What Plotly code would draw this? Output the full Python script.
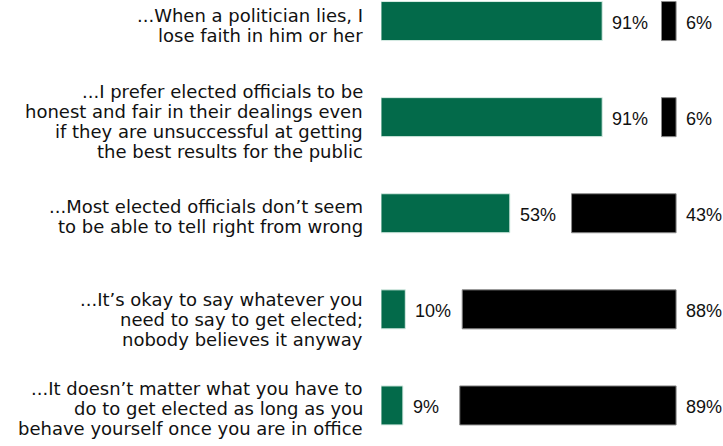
import plotly.graph_objects as go

statements = [
    ["...When a politician lies, I", "lose faith in him or her"],
    ["...I prefer elected officials to be", "honest and fair in their dealings even",
     "if they are unsuccessful at getting", "the best results for the public"],
    ["...Most elected officials don\u2019t seem", "to be able to tell right from wrong"],
    ["...It\u2019s okay to say whatever you", "need to say to get elected;",
     "nobody believes it anyway"],
    ["...It doesn\u2019t matter what you have to", "do to get elected as long as you",
     "behave yourself once you are in office"],
]
agree = [91, 91, 53, 10, 9]
disagree = [6, 6, 43, 88, 89]

GREEN = "#036A4A"
BLACK = "#000000"
RIGHT_EDGE = 121.4   # x position where the black bars are right-aligned
BAR_W = 0.406
LINE_H = 20          # px between label lines
LABEL_DY = [4, 4, 3, 10, 3]  # px the label block sits below the bar centre

LABEL_FONT = dict(family="DejaVu Sans, Verdana, sans-serif", size=18, color="#111111")
NUM_FONT = dict(family="Liberation Sans, Arial, sans-serif", size=18, color="#111111")

pos = list(range(len(statements)))

fig = go.Figure()
fig.add_trace(go.Bar(
    y=pos, x=agree, orientation="h", width=BAR_W,
    marker=dict(color=GREEN, line=dict(color="#d8ece4", width=1)),
    showlegend=False, hoverinfo="skip",
))
fig.add_trace(go.Bar(
    y=pos, x=disagree, base=[RIGHT_EDGE - d for d in disagree],
    orientation="h", width=BAR_W,
    marker=dict(color=BLACK, line=dict(color="#8a8a8a", width=1)),
    showlegend=False, hoverinfo="skip",
))

annotations = []
for i, (lines, a, d) in enumerate(zip(statements, agree, disagree)):
    n = len(lines)
    for k, line in enumerate(lines):
        annotations.append(dict(
            x=0, xref="paper", y=i, yref="y", text=line, showarrow=False,
            xanchor="right", yanchor="middle", align="right", xshift=-16,
            yshift=-((k - (n - 1) / 2) * LINE_H + LABEL_DY[i]),
            font=LABEL_FONT,
        ))
    annotations.append(dict(
        x=a, xref="x", y=i, yref="y", text=f"{a}%", showarrow=False,
        xanchor="left", yanchor="middle", xshift=8, yshift=-2, font=NUM_FONT,
    ))
    annotations.append(dict(
        x=RIGHT_EDGE, xref="x", y=i, yref="y", text=f"{d}%", showarrow=False,
        xanchor="left", yanchor="middle", xshift=8, yshift=-2, font=NUM_FONT,
    ))

fig.update_layout(
    width=723, height=446,
    margin=dict(l=381, r=0, t=0, b=0),
    paper_bgcolor="white", plot_bgcolor="white",
    barmode="overlay",
    xaxis=dict(range=[0, 140.7], visible=False, fixedrange=True),
    yaxis=dict(range=[4.422, -0.219], visible=False, fixedrange=True),
    annotations=annotations,
)

fig.write_html(
    "out.html",
    config={"displayModeBar": False},
    post_script="document.body.style.margin='0';document.body.style.overflow='hidden';",
)
